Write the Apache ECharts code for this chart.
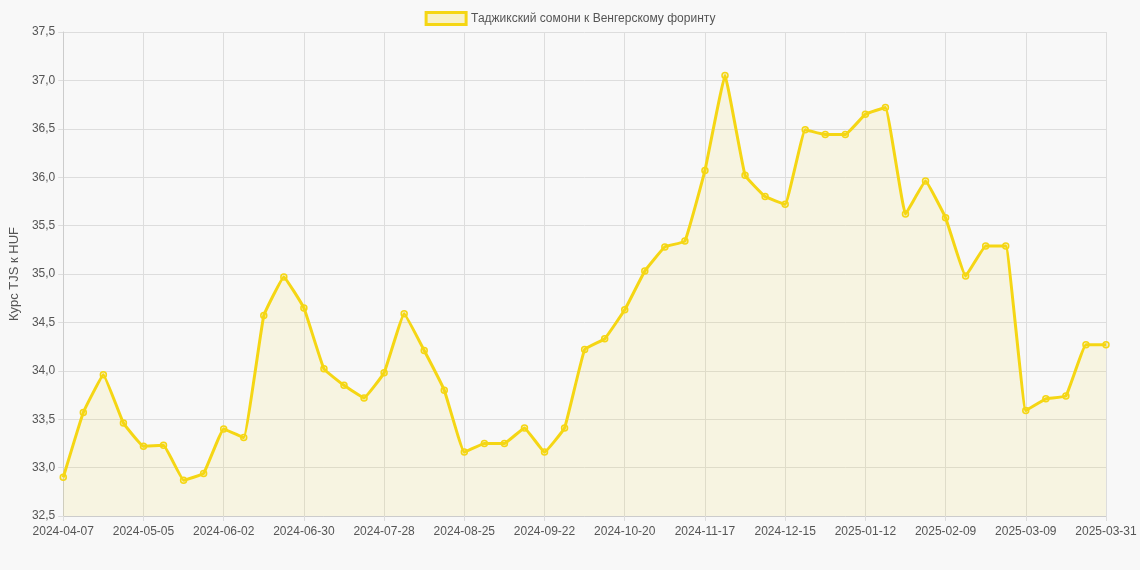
<!DOCTYPE html>
<html><head><meta charset="utf-8">
<script src="https://cdn.jsdelivr.net/npm/echarts@6/dist/echarts.min.js"></script>
<style>html,body{margin:0;padding:0;background:#f8f8f8}#c{width:1140px;height:570px}</style>
</head><body><div id="c"></div>
<script>
const dates = ["2024-04-07","2024-04-14","2024-04-21","2024-04-28","2024-05-05","2024-05-12","2024-05-19","2024-05-26","2024-06-02","2024-06-09","2024-06-16","2024-06-23","2024-06-30","2024-07-07","2024-07-14","2024-07-21","2024-07-28","2024-08-04","2024-08-11","2024-08-18","2024-08-25","2024-09-01","2024-09-08","2024-09-15","2024-09-22","2024-09-29","2024-10-06","2024-10-13","2024-10-20","2024-10-27","2024-11-03","2024-11-10","2024-11-17","2024-11-24","2024-12-01","2024-12-08","2024-12-15","2024-12-22","2024-12-29","2025-01-05","2025-01-12","2025-01-19","2025-01-26","2025-02-02","2025-02-09","2025-02-16","2025-02-23","2025-03-02","2025-03-09","2025-03-16","2025-03-23","2025-03-30","2025-03-31"];
const values = [32.9,33.57,33.96,33.46,33.22,33.23,32.87,32.94,33.40,33.31,34.57,34.97,34.65,34.02,33.85,33.72,33.98,34.59,34.21,33.80,33.16,33.25,33.25,33.41,33.16,33.41,34.22,34.33,34.63,35.03,35.28,35.34,36.07,37.05,36.02,35.80,35.72,36.49,36.44,36.44,36.65,36.72,35.62,35.96,35.58,34.98,35.29,35.29,33.59,33.71,33.74,34.27,34.27];
const seriesName = "Таджикский сомони к Венгерскому форинту";
const yName = "Курс TJS к HUF";
const c = echarts.init(document.getElementById('c'));
c.setOption({
  backgroundColor:'#f8f8f8',
  textStyle:{fontFamily:'Liberation Sans, Arial, sans-serif'},
  legend:{top:6,left:'center',itemWidth:40,itemHeight:12,icon:'rect',
    textStyle:{color:'#555',fontSize:12},
    data:[{name:seriesName,itemStyle:{color:'rgba(245,215,20,0.2)',borderColor:'#f5d614',borderWidth:3}}]},
  grid:{left:62,right:34,top:32,bottom:54},
  xAxis:{type:'category',boundaryGap:false,data:dates,
    axisLine:{lineStyle:{color:'#ccc'}},axisTick:{show:true,interval:3,lineStyle:{color:'#ddd'}},
    axisLabel:{interval:3,color:'#555',fontSize:12,margin:10},
    splitLine:{show:true,interval:3,lineStyle:{color:'#ddd'}}},
  yAxis:{type:'value',min:32.5,max:37.5,interval:0.5,
    name:yName,nameLocation:'middle',nameGap:42,nameTextStyle:{color:'#555',fontSize:13},
    axisLine:{show:true,lineStyle:{color:'#ccc'}},axisTick:{show:true,lineStyle:{color:'#ddd'}},
    axisLabel:{color:'#555',fontSize:12,formatter:v=>v.toFixed(1).replace('.',',')},
    splitLine:{lineStyle:{color:'#ddd'}}},
  series:[{name:seriesName,type:'line',data:values,smooth:0.08,
    lineStyle:{color:'#f5d614',width:3},
    itemStyle:{color:'rgba(245,215,20,0.25)',borderColor:'#f5d614',borderWidth:1.5},
    symbol:'circle',symbolSize:6,showAllSymbol:true,
    areaStyle:{color:'rgba(240,215,60,0.18)'}}]
});
</script></body></html>
